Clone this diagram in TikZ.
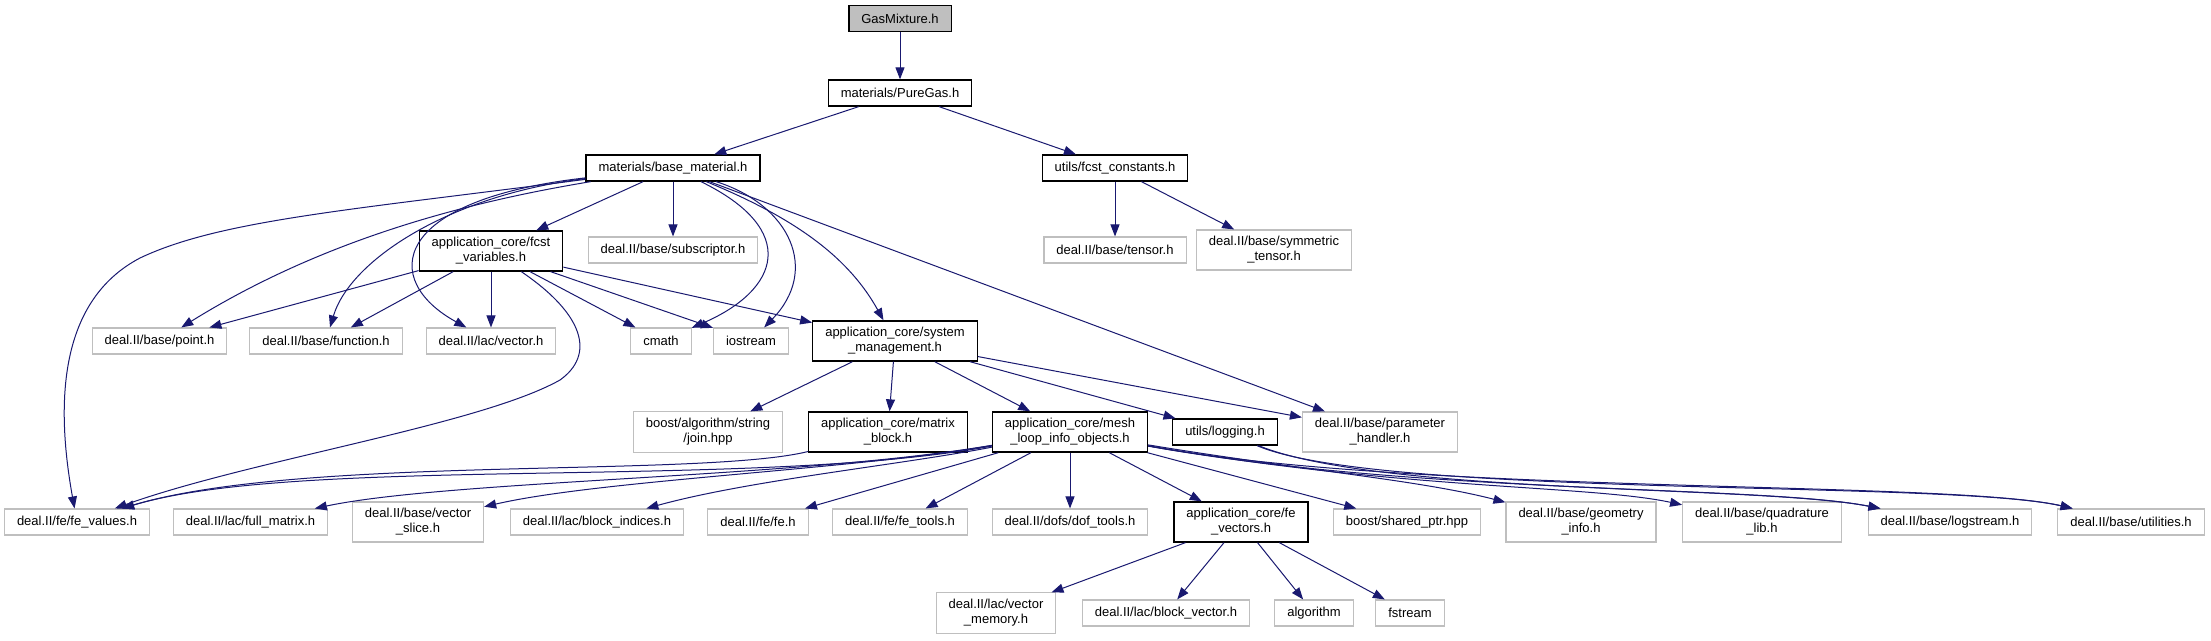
\documentclass[tikz,border=0pt]{standalone}
\usepackage{fontspec}
\setmainfont{Liberation Sans}
\usetikzlibrary{arrows.meta}

\definecolor{edgeblue}{HTML}{191970}
\definecolor{boxgrey}{HTML}{BFBFBF}

\begin{document}
\begin{tikzpicture}[
  x=1pt, y=-1pt,
  file/.style={rectangle, align=center, inner xsep=12.5pt, inner ysep=6.5pt, minimum height=26pt, font=\fontsize{13pt}{15pt}\selectfont},
  hdr/.style={file, draw=black, line width=1.3pt},
  ext/.style={file, draw=boxgrey, line width=1.1pt},
  root/.style={hdr, fill=boxgrey},
  inc/.style={-{Triangle[length=12pt,width=9pt]}, draw=edgeblue, line width=1pt},
]

% Page
\fill[white] (0,0) rectangle (2211,640);
\useasboundingbox (0,0) rectangle (2211,640);

% Top: the file and its direct includes
\node[root] (gas) at (900,18.5) {GasMixture.h};
\node[hdr] (puregas) at (900,93) {materials/PureGas.h};
\node[hdr] (basemat) at (673,168) {materials/base\_material.h};
\node[hdr] (constants) at (1115,168) {utils/fcst\_constants.h};

% Second row
\node[hdr] (fcstvars) at (491,251) {application\_core/fcst\\\_variables.h};
\node[ext] (subscriptor) at (673,250) {deal.II/base/subscriptor.h};
\node[ext] (tensor) at (1115,250) {deal.II/base/tensor.h};
\node[ext] (symtensor) at (1274,250) {deal.II/base/symmetric\\\_tensor.h};

% Third row
\node[ext] (point) at (159.5,341) {deal.II/base/point.h};
\node[ext] (function) at (326,341) {deal.II/base/function.h};
\node[ext] (lacvector) at (491,341) {deal.II/lac/vector.h};
\node[ext] (cmath) at (661,341) {cmath};
\node[ext] (iostream) at (751,341) {iostream};
\node[hdr] (sysmgmt) at (895,341) {application\_core/system\\\_management.h};

% Fourth row
\node[ext] (join) at (708,432) {boost/algorithm/string\\/join.hpp};
\node[hdr] (matrixblock) at (888,432) {application\_core/matrix\\\_block.h};
\node[hdr] (meshloop) at (1070,432) {application\_core/mesh\\\_loop\_info\_objects.h};
\node[hdr] (logging) at (1225,432) {utils/logging.h};
\node[ext] (paramhandler) at (1380,432) {deal.II/base/parameter\\\_handler.h};

% Fifth row
\node[ext] (fevalues) at (77,522) {deal.II/fe/fe\_values.h};
\node[ext] (fullmatrix) at (250.5,522) {deal.II/lac/full\_matrix.h};
\node[ext] (vectorslice) at (418,522) {deal.II/base/vector\\\_slice.h};
\node[ext] (blockindices) at (597,522) {deal.II/lac/block\_indices.h};
\node[ext] (fe) at (758,522) {deal.II/fe/fe.h};
\node[ext] (fetools) at (900,522) {deal.II/fe/fe\_tools.h};
\node[ext] (doftools) at (1070,522) {deal.II/dofs/dof\_tools.h};
\node[hdr] (fevectors) at (1241,522) {application\_core/fe\\\_vectors.h};
\node[ext] (sharedptr) at (1407,522) {boost/shared\_ptr.hpp};
\node[ext] (geometry) at (1581,522) {deal.II/base/geometry\\\_info.h};
\node[ext] (quadrature) at (1762,522) {deal.II/base/quadrature\\\_lib.h};
\node[ext] (logstream) at (1950,522) {deal.II/base/logstream.h};
\node[ext] (utilities) at (2131,522) {deal.II/base/utilities.h};

% Bottom row
\node[ext] (vecmemory) at (996,613) {deal.II/lac/vector\\\_memory.h};
\node[ext] (blockvector) at (1166,613) {deal.II/lac/block\_vector.h};
\node[ext] (algorithm) at (1314,613) {algorithm};
\node[ext] (fstream) at (1410,613) {fstream};

% Includes from the top files
\draw[inc] (gas) -- (puregas);
\draw[inc] (puregas) -- (basemat);
\draw[inc] (puregas) -- (constants);
\draw[inc] (constants) -- (tensor);
\draw[inc] (constants) -- (symtensor);

% base_material.h
\draw[inc] (basemat) .. controls (350,210) and (220,220) .. (140,258)
  .. controls (60,300) and (55,400) .. (fevalues);
\draw[inc] (basemat) .. controls (480,200) and (330,235) .. (point);
\draw[inc] (basemat) .. controls (450,195) and (350,260) .. (function);
\draw[inc] (basemat) .. controls (390,200) and (380,280) .. (lacvector);
\draw[inc] (basemat) -- (fcstvars);
\draw[inc] (basemat) -- (subscriptor);
\draw[inc] (basemat) .. controls (800,230) and (780,290) .. (cmath);
\draw[inc] (basemat) .. controls (790,205) and (820,270) .. (iostream);
\draw[inc] (basemat) .. controls (800,220) and (850,260) .. (sysmgmt);
\draw[inc] (basemat) -- (paramhandler);

% fcst_variables.h
\draw[inc] (fcstvars) -- (point);
\draw[inc] (fcstvars) -- (function);
\draw[inc] (fcstvars) -- (lacvector);
\draw[inc] (fcstvars) -- (cmath);
\draw[inc] (fcstvars) -- (iostream);
\draw[inc] (fcstvars) -- (sysmgmt);
\draw[inc] (fcstvars) .. controls (585,315) and (595,355) .. (560,380)
  .. controls (480,425) and (250,460) .. (fevalues);

% system_management.h
\draw[inc] (sysmgmt) -- (join);
\draw[inc] (sysmgmt) -- (matrixblock);
\draw[inc] (sysmgmt) -- (meshloop);
\draw[inc] (sysmgmt) -- (logging);
\draw[inc] (sysmgmt) -- (paramhandler);
\draw[inc] (matrixblock) .. controls (700,478) and (300,455) .. (fevalues);

% mesh_loop_info_objects.h
\draw[inc] (meshloop) .. controls (750,490) and (300,455) .. (fevalues);
\draw[inc] (meshloop) .. controls (800,478) and (450,480) .. (fullmatrix);
\draw[inc] (meshloop) .. controls (850,470) and (600,480) .. (vectorslice);
\draw[inc] (meshloop) .. controls (900,465) and (750,480) .. (blockindices);
\draw[inc] (meshloop) -- (fe);
\draw[inc] (meshloop) -- (fetools);
\draw[inc] (meshloop) -- (doftools);
\draw[inc] (meshloop) -- (fevectors);
\draw[inc] (meshloop) -- (sharedptr);
\draw[inc] (meshloop) .. controls (1300,470) and (1420,480) .. (geometry);
\draw[inc] (meshloop) .. controls (1400,490) and (1590,485) .. (quadrature);
\draw[inc] (meshloop) .. controls (1420,495) and (1760,485) .. (logstream);
\draw[inc] (meshloop) .. controls (1420,495) and (1950,480) .. (utilities);

% logging.h
\draw[inc] (logging) .. controls (1380,495) and (1760,485) .. (logstream);
\draw[inc] (logging) .. controls (1380,498) and (1950,480) .. (utilities);

% fe_vectors.h
\draw[inc] (fevectors) -- (vecmemory);
\draw[inc] (fevectors) -- (blockvector);
\draw[inc] (fevectors) -- (algorithm);
\draw[inc] (fevectors) -- (fstream);

\end{tikzpicture}
\end{document}
